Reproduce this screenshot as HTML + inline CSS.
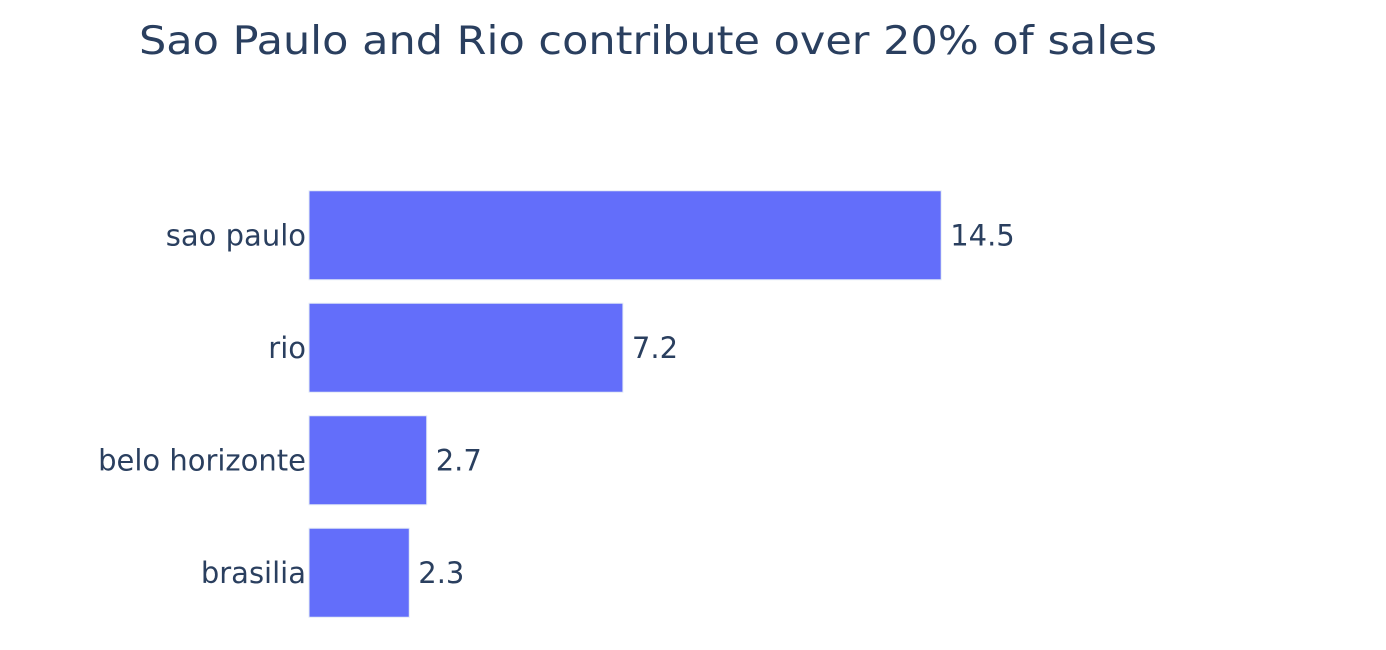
<!DOCTYPE html>
<html>
<head>
<meta charset="utf-8">
<style>
  body { margin:0; background:#fff; }
  svg { display:block; font-family:"DejaVu Sans", "Liberation Sans", sans-serif; }
</style>
</head>
<body>
<svg id="chart" width="1386" height="650">
  <text x="139" y="54" font-size="39" fill="#2a3f5f" textLength="1018" lengthAdjust="spacingAndGlyphs">Sao Paulo and Rio contribute over 20% of sales</text>
  <g id="bars"></g>
</svg>
<script>
const categories = ["sao paulo", "rio", "belo horizonte", "brasilia"];
const values = [14.5, 7.2, 2.7, 2.3];
const valueLabels = ["14.5", "7.2", "2.7", "2.3"];

const x0 = 309, pxPerUnit = 43.6;
const top0 = 179, step = 112.5, barH = 89;
function xScale(v) { return x0 + v * pxPerUnit; }
function yBand(i) { return top0 + i * step; }

const g = document.getElementById('bars');
const NS = 'http://www.w3.org/2000/svg';
categories.forEach((c, i) => {
  const yc = yBand(i) + step / 2;
  const r = document.createElementNS(NS, 'rect');
  r.setAttribute('x', x0);
  r.setAttribute('y', yc - barH / 2);
  r.setAttribute('width', xScale(values[i]) - x0);
  r.setAttribute('height', barH);
  r.setAttribute('fill', '#636efa');
  r.setAttribute('stroke', '#e5ecf6');
  r.setAttribute('stroke-width', '1');
  
  
  g.appendChild(r);

  const lbl = document.createElementNS(NS, 'text');
  lbl.setAttribute('x', x0 - 3);
  lbl.setAttribute('y', yc + 10);
  lbl.setAttribute('text-anchor', 'end');
  lbl.setAttribute('font-size', '29');
  lbl.setAttribute('fill', '#2a3f5f');
  lbl.textContent = c;
  
  
  g.appendChild(lbl);

  const vt = document.createElementNS(NS, 'text');
  vt.setAttribute('x', xScale(values[i]) + 9);
  vt.setAttribute('y', yc + 10);
  vt.setAttribute('font-size', '29');
  vt.setAttribute('fill', '#2a3f5f');
  vt.textContent = valueLabels[i];
  
  
  g.appendChild(vt);
});
</script>
</body>
</html>
